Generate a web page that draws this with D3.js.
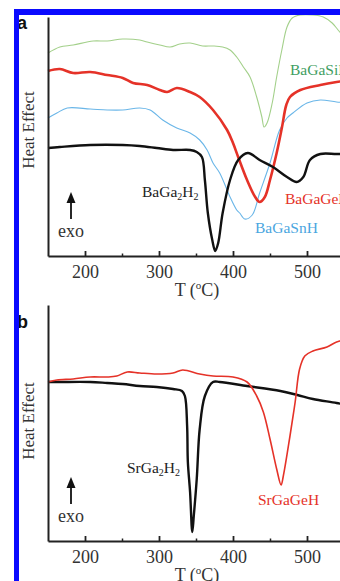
<!DOCTYPE html>
<html>
<head>
<meta charset="utf-8">
<script src="https://cdn.jsdelivr.net/npm/d3@7"></script>
<style>
  body { margin: 0; background: #fff; }
  svg { display: block; }
</style>
</head>
<body>
<div id="chart"></div>
<script>
// Temperature (°C) and heat effect (arb. units)

// panel a
var siT = [150,166,184,211,230,251,274,284,301,315,328,342,359,373,386,396,405,414,423,432,439,442,446,453,459,466,473,480,491,508,522,534,542,555];
var siQ = [203,209,211,215,215,217,216,214,211,209,212,213,210,210,209,206,199,189,179,159,139,129,133,153,179,206,229,238,241,241,239,233,226,215];

var geT = [150,166,184,207,230,251,265,284,301,311,324,342,355,373,392,400,407,419,430,436,443,450,459,466,472,477,491,518,540,560];
var geQ = [185,187,183,184,181,178,173,171,166,164,168,164,159,146,126,113,99,76,59,54,59,76,103,128,151,159,166,171,174,176];

var snT = [150,162,176,207,230,251,274,288,305,324,342,355,365,373,382,392,396,405,409,416,426,436,450,463,473,481,500,518,540,560];
var snQ = [138,143,148,147,146,146,148,146,136,128,123,116,106,93,83,66,59,46,43,37,41,63,93,126,138,143,153,156,154,153];

var baT = [150,166,207,251,274,297,319,342,351,358,362,366,372,376,380,386,396,407,420,436,454,473,486,495,504,518,540,560];
var baQ = [108,109,111,111,110,108,106,106,104,99,76,43,16,5,13,43,76,96,103,96,89,79,74,79,96,102,102,102];

// panel b
var srT = [150,166,207,230,251,274,297,319,331,335,338,339,342,345,347,351,355,362,373,382,419,464,487,508,540,560];
var srQ = [159,159,159,158,157,155,154,152,150,145,115,79,49,9,25,62,112,145,159,159,155,150,146,142,138,135];

var srGeT = [150,162,184,207,230,243,257,274,297,319,332,355,373,400,419,432,441,450,459,465,468,477,484,490,497,508,527,540,560];
var srGeQ = [159,161,162,164,164,165,169,168,167,168,171,167,165,164,159,145,129,102,72,56,65,105,139,172,185,190,194,199,203];

var majorTicks = [200, 300, 400, 500];
var minorTicks = [250, 350, 450, 550];

var svgWidth = 340;
var svgHeight = 581;

var svg = d3.select("#chart")
  .append("svg")
  .attr("width", svgWidth)
  .attr("height", svgHeight);

svg.append("rect")
  .attr("width", svgWidth)
  .attr("height", svgHeight)
  .attr("fill", "#fff");

// same temperature axis for both panels, chart runs off the right edge
var x = d3.scaleLinear().domain([150, 600]).range([48, 381]);

var serif = "'Liberation Serif', 'DejaVu Serif', serif";

function zip(ts, qs) {
  return ts.map(function(t, i) { return { t: t, q: qs[i] }; });
}

function drawPanel(top, bottom, series, labels, headY) {
  var y = d3.scaleLinear().domain([0, 240]).range([bottom, bottom - 240]);
  var g = svg.append("g");

  var line = d3.line()
    .x(d => x(d.t))
    .y(d => y(d.q))
    .curve(d3.curveCatmullRom.alpha(0.5));

  series.forEach(function(s) {
    g.append("path")
      .datum(zip(s.t, s.q))
      .attr("d", line)
      .attr("fill", "none")
      .attr("stroke", s.color)
      .attr("stroke-width", s.width)
      .attr("stroke-linejoin", "round");
  });

  // x axis, ticks point inwards
  var xAxis = g.append("g")
    .attr("transform", `translate(0, ${bottom})`)
    .call(d3.axisBottom(x).tickValues(majorTicks).tickSizeInner(-5).tickSizeOuter(0).tickPadding(9));
  xAxis.select(".domain").attr("stroke", "#222").attr("stroke-width", 2);
  xAxis.selectAll(".tick line").attr("stroke", "#222").attr("stroke-width", 1.8);
  xAxis.selectAll(".tick text")
    .style("font-family", serif)
    .style("font-size", "18px")
    .attr("fill", "#333");

  g.append("g")
    .attr("transform", `translate(0, ${bottom})`)
    .call(d3.axisBottom(x).tickValues(minorTicks).tickSizeInner(-2.5).tickSizeOuter(0).tickFormat(""))
    .call(a => a.select(".domain").remove())
    .selectAll(".tick line").attr("stroke", "#222").attr("stroke-width", 1.5);

  // y axis is just a bare line
  g.append("g")
    .attr("transform", `translate(${x(150)}, 0)`)
    .call(d3.axisLeft(d3.scaleLinear().range([bottom, top])).tickValues([]).tickSizeOuter(0))
    .select(".domain").attr("stroke", "#222").attr("stroke-width", 2);

  // axis titles
  var tt = g.append("text")
    .attr("x", 197)
    .attr("y", bottom + 40)
    .attr("text-anchor", "middle")
    .style("font-family", serif)
    .style("font-size", "18px")
    .attr("fill", "#333");
  tt.append("tspan").text("T (");
  tt.append("tspan").attr("dy", -7).style("font-size", "11px").text("o");
  tt.append("tspan").attr("dy", 7).text("C)");

  g.append("text")
    .attr("transform", `translate(34, ${headY}) rotate(-90)`)
    .attr("text-anchor", "middle")
    .style("font-family", serif)
    .style("font-size", "17px")
    .attr("fill", "#333")
    .text("Heat Effect");

  // exo arrow
  var ax = 71;
  var arrowTop = bottom - 64;
  g.append("line")
    .attr("x1", ax).attr("x2", ax)
    .attr("y1", arrowTop + 8).attr("y2", bottom - 37)
    .attr("stroke", "#111").attr("stroke-width", 1.8);
  g.append("path")
    .attr("d", `M${ax},${arrowTop} L${ax - 4.5},${arrowTop + 11} L${ax + 4.5},${arrowTop + 11} Z`)
    .attr("fill", "#111");
  g.append("text")
    .attr("x", 58)
    .attr("y", bottom - 19)
    .style("font-family", serif)
    .style("font-size", "18px")
    .attr("fill", "#333")
    .text("exo");

  // curve labels, subscripts done with tspans
  labels.forEach(function(l) {
    var t = g.append("text")
      .attr("x", l.x)
      .attr("y", l.y)
      .style("font-family", serif)
      .style("font-size", "15.5px")
      .attr("fill", l.color);
    l.parts.forEach(function(p) {
      if (p.sub) {
        t.append("tspan").attr("dy", 3).style("font-size", "10px").text(p.text);
      } else {
        t.append("tspan").attr("dy", p.after ? -3 : 0).text(p.text);
      }
    });
  });
}

drawPanel(17, 256, [
  { t: siT, q: siQ, color: "#a3d08a", width: 1.1 },
  { t: snT, q: snQ, color: "#6ab6e8", width: 1.1 },
  { t: geT, q: geQ, color: "#e53228", width: 2.6 },
  { t: baT, q: baQ, color: "#111", width: 2.4 }
], [
  { x: 290, y: 75, color: "#3f9e62", parts: [{ text: "BaGaSiH" }] },
  { x: 285, y: 204, color: "#e53228", parts: [{ text: "BaGaGeH" }] },
  { x: 255, y: 233, color: "#4aa6e0", parts: [{ text: "BaGaSnH" }] },
  { x: 142, y: 197, color: "#222", parts: [{ text: "BaGa" }, { text: "2", sub: true }, { text: "H", after: true }, { text: "2", sub: true }] }
], 130);

drawPanel(305, 541, [
  { t: srT, q: srQ, color: "#111", width: 2.4 },
  { t: srGeT, q: srGeQ, color: "#e53228", width: 1.6 }
], [
  { x: 127, y: 473, color: "#222", parts: [{ text: "SrGa" }, { text: "2", sub: true }, { text: "H", after: true }, { text: "2", sub: true }] },
  { x: 258, y: 505, color: "#e53228", parts: [{ text: "SrGaGeH" }] }
], 421);

// panel letters
svg.append("text").attr("x", 17).attr("y", 29)
  .style("font-family", "'Liberation Sans', Arial, sans-serif")
  .style("font-weight", "bold").style("font-size", "18px").attr("fill", "#111").text("a");
svg.append("text").attr("x", 17).attr("y", 328)
  .style("font-family", "'Liberation Sans', Arial, sans-serif")
  .style("font-weight", "bold").style("font-size", "18px").attr("fill", "#111").text("b");

// blue frame of the crop
svg.append("rect").attr("x", 14).attr("y", 9).attr("width", 326).attr("height", 6).attr("fill", "#0a0aff");
svg.append("rect").attr("x", 14).attr("y", 9).attr("width", 5).attr("height", 572).attr("fill", "#0a0aff");
</script>
</body>
</html>
